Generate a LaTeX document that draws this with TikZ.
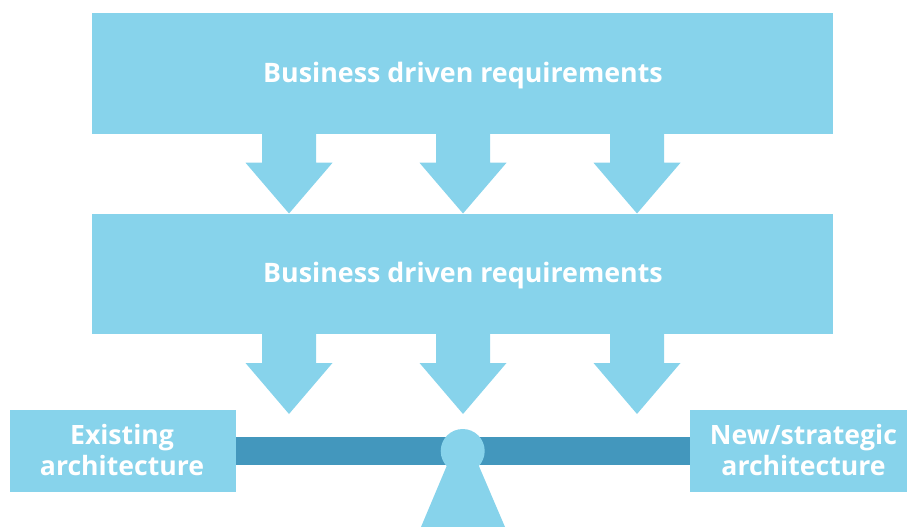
\documentclass[tikz,border=0pt]{standalone}
\usepackage{fontspec}
\setmainfont{Open Sans}
\definecolor{lightb}{RGB}{135,211,235}
\definecolor{darkb}{RGB}{67,151,189}
\begin{document}
\begin{tikzpicture}[x=1pt,y=-1pt,
  box/.style={fill=lightb,draw=none,inner sep=0pt},
  boxtext/.style={inner sep=0pt,text=white,font=\fontsize{26.8}{32}\selectfont\bfseries,anchor=base},
  sidetext/.style={inner sep=0pt,text=white,font=\fontsize{26.6}{30.7}\selectfont\bfseries,anchor=base},
  sidebox/.style={fill=lightb,draw=none,inner sep=0pt,minimum width=226pt,minimum height=82pt},
  blockarrow/.style={fill=lightb,draw=none}]
\useasboundingbox (0,0) rectangle (907,527);
\node[box,minimum width=741pt,minimum height=121pt] (top) at (462.5,73.5) {};
\node[boxtext] (toptext) at (463,82.7) {Business driven requirements};
\node[box,minimum width=741pt,minimum height=120pt] (mid) at (462.5,274) {};
\node[boxtext] (midtext) at (463,282.7) {Business driven requirements};
\node[sidebox] (left) at (123,451) {};
\node[sidetext] (l1) at (122,444.3) {Existing};
\node[sidetext] (l2) at (122,475) {architecture};
\node[sidebox] (right) at (803,451) {};
\node[sidetext] (r1) at (803.5,444.3) {New/strategic};
\node[sidetext] (r2) at (803.5,475) {architecture};
% block arrows
\foreach \cx/\n in {289/a,463/b,637/c}{
  \fill[blockarrow] (\cx-27,134) -- (\cx+27,134) -- (\cx+27,162.7) -- (\cx+43.5,162.7) -- (\cx,213.5) -- (\cx-43.5,162.7) -- (\cx-27,162.7) -- cycle;
  \fill[blockarrow] (\cx-27,334) -- (\cx+27,334) -- (\cx+27,363) -- (\cx+43.5,363) -- (\cx,414) -- (\cx-43.5,363) -- (\cx-27,363) -- cycle;
}
% seesaw bar
\fill[darkb] (left.east |- 0,437) rectangle (right.west |- 0,465);
% fulcrum
\fill[lightb] (453,451) -- (472.5,451) -- (505,527) -- (421,527) -- cycle;
\fill[lightb] (462.7,451) circle (22);
\end{tikzpicture}
\end{document}
